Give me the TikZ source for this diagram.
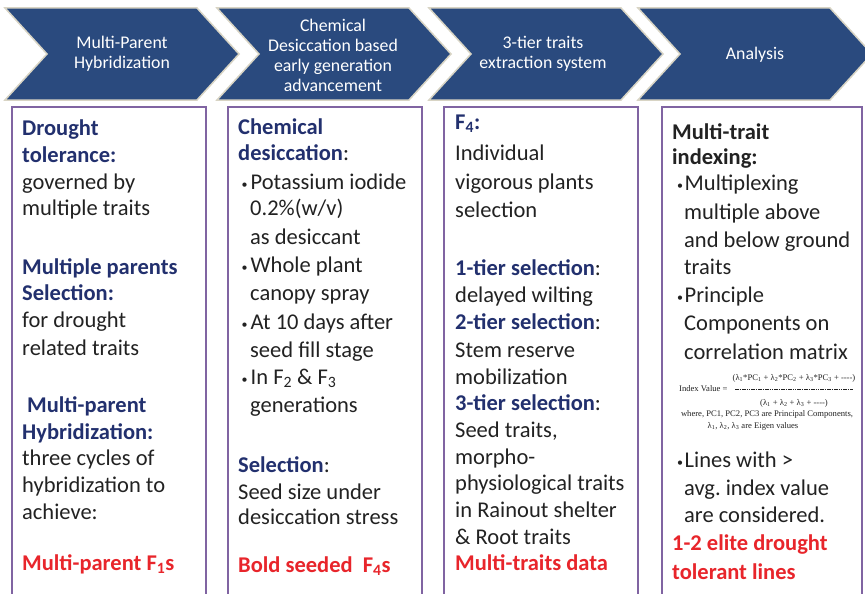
\documentclass[tikz,border=0pt]{standalone}
\usepackage{fontspec}
\setmainfont{Carlito}
\newfontfamily\tnr{Liberation Serif}
\definecolor{chev}{HTML}{2A4A7E}
\definecolor{chevedge}{HTML}{D8D4C4}
\definecolor{boxpurple}{HTML}{8064A2}
\definecolor{navy}{HTML}{22306E}
\definecolor{redt}{HTML}{E8252B}
\definecolor{txt}{HTML}{222222}
\newcommand\smbul{\raisebox{1.5pt}{\fontsize{12}{12}\selectfont\textbullet}}
\newcommand\bulA{\makebox[10.5pt][l]{\hspace{1.5pt}\smbul}}
\newcommand\bulB{\makebox[8.5pt][l]{\hspace{1pt}\smbul}}
\newcommand\sub[1]{\textsubscript{#1}}
\tikzset{
 chevron/.style={fill=chev, draw=chevedge, line width=1.5pt, line join=miter},
 chevtext/.style={text=white, align=center, font=\fontsize{17.8}{20}\selectfont, inner sep=0},
 colbox/.style={draw=boxpurple, line width=1.8pt, fill=white},
 tl/.style={anchor=base west, inner sep=0, text=txt, font=\fontsize{22.5}{27}\selectfont},
 hd/.style={tl, text=navy, font=\fontsize{22.5}{27}\selectfont\bfseries},
 bk/.style={tl, font=\fontsize{22.5}{27}\selectfont\bfseries},
 rd/.style={tl, text=redt, font=\fontsize{22.5}{27}\selectfont\bfseries},
 fm/.style={anchor=base, inner sep=0, font=\tnr\fontsize{8.6}{10}\selectfont, text=txt},
}
\begin{document}
\begin{tikzpicture}[x=1pt,y=-1pt]
\useasboundingbox (0,0) rectangle (865,594);
\clip (0,0) rectangle (865,594);
\fill[white] (0,0) rectangle (865,594);
% chevrons
\foreach \x in {5,217,429,638}{
  \draw[chevron] (\x,8) -- ++(192,0) -- ++(42,46) -- ++(-42,46) -- ++(-192,0) -- ++(42,-46) -- cycle;
}
\node[chevtext] (c1) at (122,54) {Multi-Parent\\Hybridization};
\node[chevtext] (c2) at (333,55) {Chemical\\Desiccation based\\early generation\\advancement};
\node[chevtext] (c3) at (543,54) {3-tier traits\\extraction system};
\node[chevtext] (c4) at (755,55) {Analysis};
% boxes
\draw[colbox] (12,107) rectangle (206,610);
\draw[colbox] (228,107) rectangle (422,610);
\draw[colbox] (444,107) rectangle (638,610);
\draw[colbox] (662,107) rectangle (862,610);
% box 1
\node[hd] (a1) at (22,135.5) {Drought};
\node[hd] (a2) at (22,162.5) {tolerance:};
\node[tl] (a3) at (22,189.5) {governed by};
\node[tl] (a4) at (22,215.5) {multiple traits};
\node[hd] (a5) at (22,274.5) {Multiple parents};
\node[hd] (a6) at (22,300.5) {Selection:};
\node[tl] (a7) at (22,327.5) {for drought};
\node[tl] (a8) at (22,355.5) {related traits};
\node[hd] (a9) at (27,412.5) {Multi-parent};
\node[hd] (a10) at (22,439.5) {Hybridization:};
\node[tl] (a11) at (22,465.5) {three cycles of};
\node[tl] (a12) at (22,492.5) {hybridization to};
\node[tl] (a13) at (22,519.5) {achieve:};
\node[rd] (a14) at (22,570.5) {Multi-parent F\sub{1}s};
% box 2
\node[hd] (b1) at (238,134.5) {Chemical};
\node[hd] (b2) at (238,160.5) {desiccation\textmd{\color{txt}:}};
\node[tl] (b3) at (240,189.5) {\bulA Potassium iodide};
\node[tl] (b4) at (250,215.5) {0.2\%(w/v)};
\node[tl] (b5) at (250,244.5) {as desiccant};
\node[tl] (b6) at (240,272.5) {\bulA Whole plant};
\node[tl] (b7) at (250,300.5) {canopy spray};
\node[tl] (b8) at (240,329.5) {\bulA At 10 days after};
\node[tl] (b9) at (250,357.5) {seed fill stage};
\node[tl] (b10) at (240,384.5) {\bulA In F\sub{2} \& F\sub{3}};
\node[tl] (b11) at (250,412.5) {generations};
\node[hd] (b12) at (238,472.5) {Selection\textmd{\color{txt}:}};
\node[tl] (b13) at (238,499.5) {Seed size under};
\node[tl] (b14) at (238,524.5) {desiccation stress};
\node[rd] (b15) at (238,572.5) {Bold seeded\ \ F\sub{4}s};
% box 3
\node[hd] (d1) at (455,129.5) {F\sub{4}:};
\node[tl] (d2) at (455,160.5) {Individual};
\node[tl] (d3) at (455,189.5) {vigorous plants};
\node[tl] (d4) at (455,217.5) {selection};
\node[hd] (d5) at (455,275.5) {1-tier selection\textmd{\color{txt}:}};
\node[tl] (d6) at (455,302.5) {delayed wilting};
\node[hd] (d7) at (455,329.5) {2-tier selection\textmd{\color{txt}:}};
\node[tl] (d8) at (455,357.5) {Stem reserve};
\node[tl] (d9) at (455,384.5) {mobilization};
\node[hd] (d10) at (455,410.5) {3-tier selection\textmd{\color{txt}:}};
\node[tl] (d11) at (455,437.5) {Seed traits,};
\node[tl] (d12) at (455,464.5) {morpho-};
\node[tl] (d13) at (455,490.5) {physiological traits};
\node[tl] (d14) at (455,517.5) {in Rainout shelter};
\node[tl] (d15) at (455,544.5) {\& Root traits};
\node[rd] (d16) at (455,570.5) {Multi-traits data};
% box 4
\node[bk] (e1) at (672,139.5) {Multi-trait};
\node[bk] (e2) at (672,164.5) {indexing:};
\node[tl] (e3) at (676,190.5) {\bulB Multiplexing};
\node[tl] (e4) at (684,219.5) {multiple above};
\node[tl] (e5) at (684,247.5) {and below ground};
\node[tl] (e6) at (684,274.5) {traits};
\node[tl] (e7) at (676,302.5) {\bulB Principle};
\node[tl] (e8) at (684,330.5) {Components on};
\node[tl] (e9) at (684,359.5) {correlation matrix};
\node[fm, anchor=base west] (f1) at (679,391) {Index Value =};
\node[fm] (f2) at (794,380) {(λ\sub{1}*PC\sub{1} + λ\sub{2}*PC\sub{2} + λ\sub{3}*PC\sub{3} + ----)};
\node[fm] (f3) at (794,405) {(λ\sub{1} + λ\sub{2} + λ\sub{3} + ----)};
\coordinate (fl) at (735,389);
\coordinate (fr) at (853,389);
\draw[txt, line width=0.6pt, dash pattern=on 1.6pt off 0.7pt] (fl) -- (fr);
\node[fm] (f4) at (767,416) {where, PC1, PC2, PC3 are Principal Components,};
\node[fm] (f5) at (753,428) {λ\sub{1}, λ\sub{2}, λ\sub{3} are Eigen values};
\node[tl] (e10) at (676,467.5) {\bulB Lines with >};
\node[tl] (e11) at (684,495.5) {avg.\ index value};
\node[tl] (e12) at (684,522.5) {are considered.};
\node[rd] (e13) at (672,550.5) {1-2 elite drought};
\node[rd] (e14) at (672,579.5) {tolerant lines};
\end{tikzpicture}
\end{document}
